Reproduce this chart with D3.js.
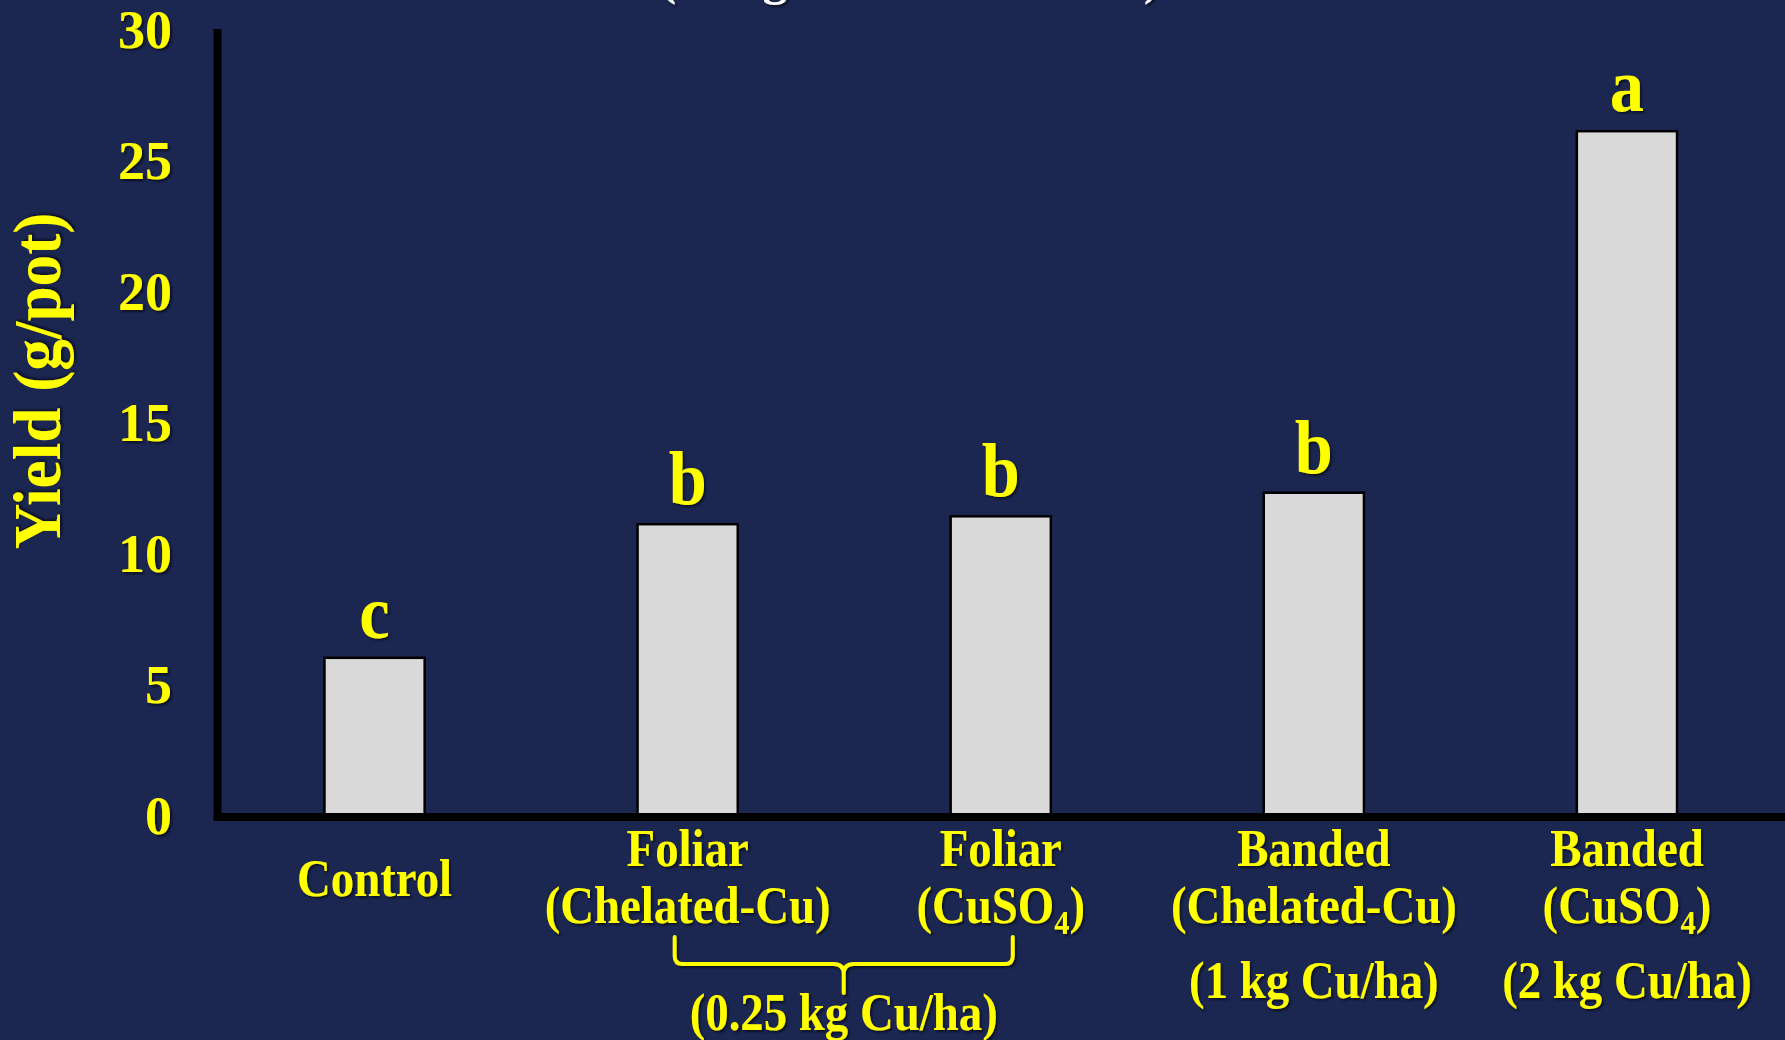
<!DOCTYPE html>
<html>
<head>
<meta charset="utf-8">
<script src="https://cdn.jsdelivr.net/npm/d3@7/dist/d3.min.js"></script>
<style>
  html, body { margin: 0; padding: 0; background: #1b2651; }
  svg { display: block; }
  text { font-family: "Liberation Serif", "Times New Roman", serif; font-weight: bold; }
</style>
</head>
<body>
<svg id="chart" width="1785" height="1040"></svg>
<script>
// Copper fertilizer treatments and their yields
const categories = ["Control", "Foliar Chelated-Cu", "Foliar CuSO4", "Banded Chelated-Cu", "Banded CuSO4"];
const yieldValues = [6.0, 11.1, 11.4, 12.3, 26.1];
const letters = ["c", "b", "b", "b", "a"];
const yTicks = [0, 5, 10, 15, 20, 25, 30];

// Category label lines; each line is a list of [text, isSubscript] pieces
const labelLine1 = [[], [["Foliar", false]], [["Foliar", false]], [["Banded", false]], [["Banded", false]]];
const labelLine2 = [[], [["(Chelated-Cu)", false]], [["(CuSO", false], ["4", true], [")", false]],
                    [["(Chelated-Cu)", false]], [["(CuSO", false], ["4", true], [")", false]]];
const rateLabels = ["", "", "", "(1 kg Cu/ha)", "(2 kg Cu/ha)"];
const foliarRate = "(0.25 kg Cu/ha)";
const titleText = "(Long-term Field Trial)";
const yTitle = "Yield (g/pot)";

const W = 1785, H = 1040;
const yellow = "#ffff00";
const svg = d3.select("#chart");

svg.append("rect").attr("width", W).attr("height", H).attr("fill", "#1b2651");

const defs = svg.append("defs");
const shadow = defs.append("filter").attr("id", "shadow")
  .attr("x", "-10%").attr("y", "-10%").attr("width", "130%").attr("height", "130%");
shadow.append("feDropShadow").attr("dx", 2).attr("dy", 2).attr("stdDeviation", 1.2)
  .attr("flood-color", "#000").attr("flood-opacity", 0.55);

const x = d3.scaleBand().domain(categories).range([218, 1783.5])
  .paddingInner(0.68).paddingOuter(0.34);
const y = d3.scaleLinear().domain([0, 30]).range([815, 29]);
const cx = c => x(c) + x.bandwidth() / 2;

// Title, mostly above the visible area
svg.append("text").attr("x", 910).attr("y", -6).attr("text-anchor", "middle")
  .attr("font-size", 50).attr("fill", "#ffffff").attr("filter", "url(#shadow)")
  .text(titleText);

// Bars
svg.append("g").selectAll("rect").data(categories).join("rect")
  .attr("x", d => x(d)).attr("width", x.bandwidth())
  .attr("y", (d, i) => y(yieldValues[i]))
  .attr("height", (d, i) => y(0) - y(yieldValues[i]))
  .attr("fill", "#d9d9d9").attr("stroke", "#000").attr("stroke-width", 2.5);

// Axes
const axisG = svg.append("g");
axisG.append("line").attr("x1", 217.5).attr("x2", 217.5).attr("y1", y(30)).attr("y2", 821)
  .attr("stroke", "#000").attr("stroke-width", 8);
axisG.append("line").attr("x1", 214).attr("x2", W).attr("y1", 817).attr("y2", 817)
  .attr("stroke", "#000").attr("stroke-width", 8);

// Y tick labels
const yAxis = d3.axisLeft(y).tickValues(yTicks).tickSize(0).tickPadding(0);
const yg = svg.append("g").attr("transform", "translate(172,0)").call(yAxis);
yg.select(".domain").remove();
yg.selectAll("text")
  .attr("font-family", "'Liberation Serif', 'Times New Roman', serif")
  .attr("font-weight", "bold").attr("font-size", 54).attr("fill", yellow)
  .attr("x", 0).attr("dy", "0.34em").attr("text-anchor", "end")
  .attr("filter", "url(#shadow)");

// Y axis title
svg.append("text")
  .attr("transform", `translate(60,381) rotate(-90) scale(0.93,1)`)
  .attr("text-anchor", "middle").attr("font-size", 68).attr("fill", yellow)
  .attr("filter", "url(#shadow)")
  .text(yTitle);

// Significance letters above bars
svg.append("g").selectAll("text").data(categories).join("text")
  .attr("transform", (d, i) => `translate(${cx(d)},${y(yieldValues[i]) - 20}) scale(0.9,1)`)
  .attr("text-anchor", "middle").attr("font-size", 76).attr("fill", yellow)
  .attr("filter", "url(#shadow)")
  .text((d, i) => letters[i]);

// Helper for a scaled, centered label line with optional subscripts
function labelLine(g, xPos, yPos, pieces, size) {
  const t = g.append("text")
    .attr("transform", `translate(${xPos},${yPos}) scale(0.9,1)`)
    .attr("text-anchor", "middle").attr("font-size", size).attr("fill", yellow)
    .attr("filter", "url(#shadow)");
  let shifted = false;
  pieces.forEach(([txt, sub]) => {
    const ts = t.append("tspan").text(txt);
    if (sub) { ts.attr("font-size", 34).attr("dy", 11); shifted = true; }
    else if (shifted) { ts.attr("dy", -11); shifted = false; }
  });
  return t;
}

const labels = svg.append("g");
categories.forEach((c, i) => {
  if (i === 0) {
    labelLine(labels, cx(c), 896, [[c, false]], 52);
    return;
  }
  labelLine(labels, cx(c), 866, labelLine1[i], 52);
  labelLine(labels, cx(c), 923, labelLine2[i], 52);
  if (rateLabels[i]) labelLine(labels, cx(c), 998, [[rateLabels[i], false]], 52);
});

// Brace grouping the two foliar treatments
const bl = cx(categories[1]) - 13, br = cx(categories[2]) + 12, bm = (bl + br) / 2;
const yTop = 937, yMid = 964, yBot = 993;
const p = d3.path();
p.moveTo(bl, yTop); p.lineTo(bl, yMid - 8); p.quadraticCurveTo(bl, yMid, bl + 8, yMid);
p.lineTo(bm - 10, yMid); p.quadraticCurveTo(bm, yMid, bm, yMid + 10); p.lineTo(bm, yBot);
p.moveTo(bm, yMid + 10); p.quadraticCurveTo(bm, yMid, bm + 10, yMid);
p.lineTo(br - 8, yMid); p.quadraticCurveTo(br, yMid, br, yMid - 8); p.lineTo(br, yTop);
svg.append("path").attr("d", p.toString()).attr("fill", "none")
  .attr("stroke", yellow).attr("stroke-width", 4).attr("stroke-linecap", "round")
  .attr("stroke-linejoin", "round").attr("filter", "url(#shadow)");

labelLine(labels, bm, 1030, [[foliarRate, false]], 52);
</script>
</body>
</html>
